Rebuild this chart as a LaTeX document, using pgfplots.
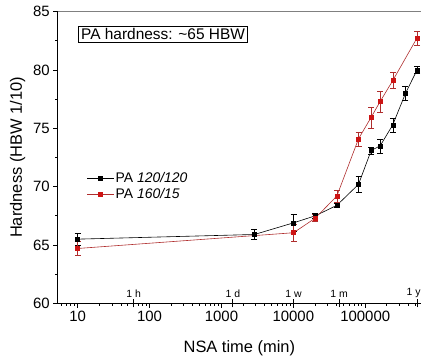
\documentclass[border=0pt]{standalone}
\usepackage{pgfplots}
\pgfplotsset{compat=1.18}
\usepackage{fontspec}
\setmainfont{Liberation Sans}
\definecolor{myred}{RGB}{205,20,20}
\definecolor{redline}{RGB}{175,45,45}
\begin{document}
\begin{tikzpicture}
\begin{axis}[name=ax, scale only axis, width=363.3bp, height=291.6bp,
  xmode=log, xmin=5.27, xmax=5.97e5, ymin=60, ymax=85,
  axis x line*=bottom, axis y line*=left,
  axis line style={line width=1.1pt},
  xtick={10,100,1000,10000,100000},
  xticklabels={10,100,1000,10000,100000},
  minor xtick={6,7,8,9,20,30,40,50,60,70,80,90,200,300,400,500,600,700,800,900,2000,3000,4000,5000,6000,7000,8000,9000,20000,30000,40000,50000,60000,70000,80000,90000,200000,300000,400000,500000},
  ytick={60,65,...,85}, minor ytick={62.5,67.5,72.5,77.5,82.5},
  tick align=outside, major tick length=4.5bp, minor tick length=2.5bp,
  tick style={line width=0.9pt, black},
  /pgf/number format/assume math mode=true,
  tick label style={font=\fontsize{15}{15}\selectfont},
  xlabel={NSA time (min)}, ylabel={Hardness (HBW 1/10)},
  label style={font=\fontsize{16.5}{16.5}\selectfont},
  xlabel style={yshift=-3bp},
  ylabel style={yshift=1bp},
  extra x ticks={60,1440,10080,43200,525600}, extra x tick labels={},
  extra x tick style={tick align=center, major tick length=8bp},
  legend style={draw=none, fill=none, at={(rel axis cs:0.0798,0.401)}, anchor=west,
    font=\fontsize{14}{14}\selectfont, row sep=2bp, inner sep=0pt,
    nodes={inner sep=1.5bp}},
  legend cell align=left,
  legend image code/.code={\draw[mark repeat=2,mark phase=2] plot coordinates {(0cm,0cm)(0.47cm,0cm)(0.94cm,0cm)};},
  clip=false,
]
\addplot[black, line width=0.6pt, mark=square*, mark size=2bp,
  error bars/.cd, y dir=both, y explicit,
  error bar style={line width=0.5pt, black},
  error mark options={rotate=90, mark size=3bp, line width=0.5pt, black}]
  coordinates {
  (10,65.5) +- (0,0.5)
  (2880,65.9) +- (0,0.45)
  (10080,66.9) +- (0,0.7)
  (20160,67.5) +- (0,0.2)
  (40320,68.4) +- (0,0.2)
  (80640,70.2) +- (0,0.7)
  (120960,73.1) +- (0,0.3)
  (161280,73.5) +- (0,0.6)
  (241920,75.3) +- (0,0.6)
  (362880,78.0) +- (0,0.6)
  (525600,80.0) +- (0,0.3)
  };
\addlegendentry{PA \textit{120/120}}
\addplot[redline, line width=0.6pt, mark=square*, mark size=2bp, mark options={myred},
  error bars/.cd, y dir=both, y explicit,
  error bar style={line width=0.5pt, redline},
  error mark options={rotate=90, mark size=3bp, line width=0.5pt, redline}]
  coordinates {
  (10,64.7) +- (0,0.6)
  (10080,66.05) +- (0,0.75)
  (20160,67.3) +- (0,0.3)
  (40320,69.2) +- (0,0.5)
  (80640,74.1) +- (0,0.6)
  (120960,75.95) +- (0,0.9)
  (161280,77.3) +- (0,0.9)
  (241920,79.1) +- (0,0.7)
  (525600,82.75) +- (0,0.6)
  };
\addlegendentry{PA \textit{160/15}}
\draw[gray, line width=1.5pt] (rel axis cs:0,1) -- (rel axis cs:1,1);
\node[draw, line width=0.6pt, inner sep=2.5bp, font=\fontsize{15.5}{15.5}\selectfont] at (rel axis cs:0.29,0.9235) {PA hardness: \textasciitilde65 HBW};
\node[font=\fontsize{10.5}{10.5}\selectfont, anchor=south, inner sep=0pt, yshift=5.5bp] at (axis cs:60,60) {1 h};
\node[font=\fontsize{10.5}{10.5}\selectfont, anchor=south, inner sep=0pt, yshift=5.5bp] at (axis cs:1440,60) {1 d};
\node[font=\fontsize{10.5}{10.5}\selectfont, anchor=south, inner sep=0pt, yshift=5.5bp] at (axis cs:10080,60) {1 w};
\node[font=\fontsize{10.5}{10.5}\selectfont, anchor=south, inner sep=0pt, yshift=5.5bp] at (axis cs:43200,60) {1 m};
\node[font=\fontsize{10.5}{10.5}\selectfont, anchor=south, inner sep=0pt, yshift=5.5bp] at (axis cs:470000,60) {1 y};
\end{axis}
\pgfresetboundingbox
\path[use as bounding box] ([xshift=-57.7bp,yshift=-54.7bp]ax.south west) rectangle ([yshift=11.7bp]ax.north east);
\end{tikzpicture}
\end{document}
